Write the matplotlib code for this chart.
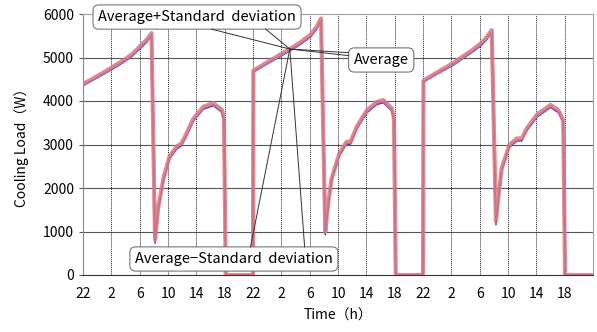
import matplotlib
matplotlib.use("Agg")
import matplotlib.pyplot as plt
from matplotlib.lines import Line2D
import numpy as np

plt.rcParams['font.family'] = ['Noto Sans CJK JP', 'DejaVu Sans']

# elapsed hours from 22:00 of day 1
hours = [0, 2, 4, 6, 7, 8, 9, 9.67, 10.17, 10.6, 11.35, 12.2, 13.2, 13.9, 14.4, 15.6, 17.0, 18.4, 19.6, 19.9, 20.15, 24.0,
         24.05, 26, 28, 29.7, 31, 32.2, 33, 33.6, 34.2, 34.65, 35.1, 36.2, 37.2, 37.8, 38.65, 40.1, 41.5, 42.4, 43.6, 43.9, 44.15, 48.0,
         48.07, 50, 52.2, 54, 55, 56.2, 57, 57.7, 58.3, 58.66, 59.1, 60.2, 61.25, 61.95, 62.65, 64.1, 66.0, 67.1, 67.8, 68.05, 72.0]
load_avg = [4370, 4550, 4740, 4940, 5060, 5220, 5380, 5530, 770, 1500, 2190, 2690, 2920, 3000, 3150, 3570, 3840, 3920, 3770, 3570, 0, 0,
            4680, 4870, 5060, 5220, 5360, 5510, 5680, 5870, 960, 1660, 2190, 2770, 3030, 3040, 3380, 3760, 3950, 3990, 3800, 3570, 0, 0,
            4450, 4640, 4840, 5040, 5150, 5300, 5440, 5600, 1190, 1800, 2420, 2960, 3110, 3110, 3340, 3660, 3880, 3760, 3530, 0, 0]
load_std = [20, 20, 25, 25, 25, 30, 30, 30, 40, 30, 30, 30, 30, 30, 30, 30, 30, 30, 30, 30, 0, 0,
            20, 20, 25, 25, 25, 30, 30, 30, 40, 30, 30, 30, 30, 30, 30, 30, 30, 30, 30, 30, 0, 0,
            20, 20, 25, 25, 25, 30, 30, 30, 40, 30, 30, 30, 30, 30, 30, 30, 30, 30, 30, 0, 0]

tick_hours = list(range(0, 72, 4))
tick_labels = ['22', '2', '6', '10', '14', '18'] * 3
y_ticks = [0, 1000, 2000, 3000, 4000, 5000, 6000]

h = np.array(hours)
avg = np.array(load_avg)
sd = np.array(load_std)

fig = plt.figure(figsize=(5.97, 3.32), dpi=100)
ax = fig.add_axes([83/597, (332-275)/332, (593-83)/597, (275-14)/332])

ax.plot(h, avg - sd, color='#3a3ad0', lw=1.0, zorder=3)
ax.plot(h, avg, color='#8a5ab0', lw=1.0, zorder=3)
ax.plot(h, avg + sd, color='#d9787f', lw=3.0, alpha=0.85, zorder=4, solid_joinstyle='round')

ax.set_xlim(0, 72)
ax.set_ylim(0, 6000)
ax.set_xticks(tick_hours)
ax.set_xticklabels(tick_labels)
ax.set_yticks(y_ticks)
ax.tick_params(axis='both', labelsize=10, length=3, direction='out', colors='#555555', labelcolor='black')
ax.tick_params(axis='x', length=0, pad=9)

for yv in y_ticks[1:-1]:
    ax.axhline(yv, color='#555555', lw=0.8, zorder=1)
for xv in tick_hours[1:]:
    ax.axvline(xv, color='#222222', lw=0.7, ls=(0, (1, 1)), zorder=1)

for s in ['top', 'right']:
    ax.spines[s].set_color('#a0a0a0')
    ax.spines[s].set_linewidth(0.8)
ax.spines['left'].set_color('#888888')
ax.spines['left'].set_linewidth(0.8)
ax.spines['bottom'].set_color('#333333')
ax.spines['bottom'].set_linewidth(0.8)

ax.set_xlabel('Time（h）', fontsize=10, labelpad=5)
ax.set_ylabel('Cooling Load（W）', fontsize=10, labelpad=10)

tip = (29.2, 5195)
bbox = dict(boxstyle='round,pad=0.35,rounding_size=0.4', fc='white', ec='#777777', lw=0.8)

# (text, box centre, edge, base fraction start, base fraction end)
callouts = [
    ('Average+Standard  deviation', (16.1, 5930), 'bottom', 0.57, 0.83),
    ('Average', (42.1, 4943), 'left', 0.68, 0.80),
    ('Average−Standard  deviation', (21.3, 368), 'top', 0.58, 0.84),
]
texts = []
for txt, pos, edge, f0, f1 in callouts:
    t = ax.text(pos[0], pos[1], txt, fontsize=10.5, ha='center', va='center', bbox=bbox,
                zorder=6, clip_on=False)
    texts.append(t)

fig.canvas.draw()
r = fig.canvas.get_renderer()
tx, ty = ax.transData.transform(tip)
W, H = fig.bbox.width, fig.bbox.height
for t, (txt, pos, edge, f0, f1) in zip(texts, callouts):
    e = t.get_bbox_patch().get_window_extent(r)
    pts = []
    for f in (f0, f1):
        if edge == 'bottom':
            pts.append((e.x0 + f * e.width, e.y0))
        elif edge == 'top':
            pts.append((e.x0 + f * e.width, e.y1))
        else:
            pts.append((e.x0, e.y0 + f * e.height))
    for px, py in pts:
        fig.add_artist(Line2D([px / W, tx / W], [py / H, ty / H], transform=fig.transFigure,
                              color='#333333', lw=0.7, zorder=5))

fig.savefig('out.png', dpi=100)
